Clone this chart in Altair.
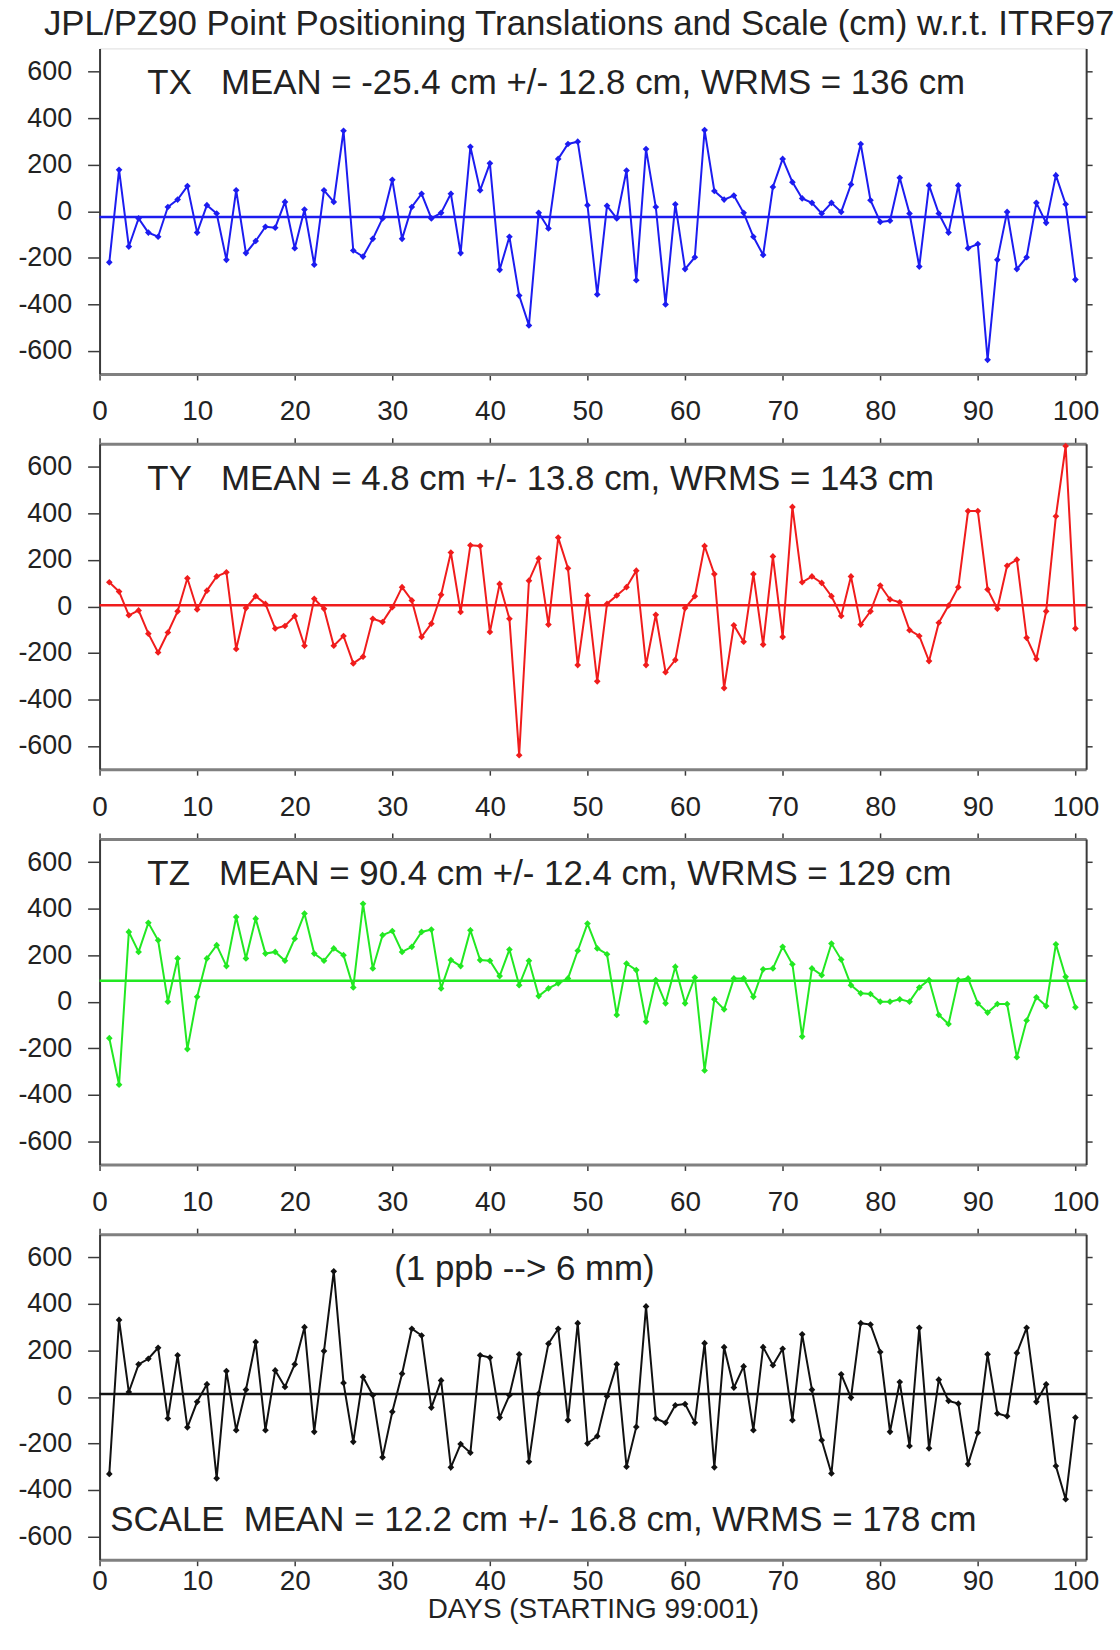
import altair as alt
import pandas as pd

FONT = "Liberation Sans"

days = list(range(1, 101))

tx = [-220, 178, -152, -31, -92, -110, 18, 50, 108, -92,
      26, -10, -209, 90, -180, -128, -67, -71, 40, -159,
      7, -230, 90, 40, 346, -169, -195, -119, -31, 135,
      -119, 18, 75, -31, -7, 75, -180, 277, 90, 206,
      -252, -110, -363, -491, -7, -74, 225, 289, 299, 26,
      -358, 23, -31, 175, -297, 267, 18, -401, 30, -249,
      -198, 349, 87, 50, 67, -7, -110, -188, 104, 225,
      125, 55, 36, -10, 36, -3, 115, 289, 47, -46,
      -41, 144, -10, -238, 111, -10, -92, 111, -159, -141,
      -639, -209, -3, -249, -198, 36, -50, 154, 30, -294]

ty = [104, 64, -38, -17, -117, -198, -112, -21, 121, -13,
      68, 129, 147, -183, -7, 44, 11, -95, -84, -41,
      -169, 33, -10, -169, -127, -245, -216, -53, -67, -3,
      83, 26, -131, -74, 50, 232, -24, 263, 260, -110,
      97, -53, -640, 111, 206, -78, 296, 164, -252, 47,
      -322, 11, 47, 83, 154, -252, -36, -283, -230, -7,
      44, 260, 139, -351, -81, -152, 139, -164, 215, -131,
      428, 104, 129, 101, 44, -41, 129, -78, -21, 90,
      30, 18, -102, -127, -235, -70, 4, 83, 410, 410,
      73, -10, 175, 201, -135, -226, -21, 388, 690, -95]

tz = [-157, -357, 300, 214, 339, 264, 0, 186, -204, 21,
      186, 243, 153, 364, 186, 357, 207, 214, 176, 271,
      379, 207, 176, 229, 200, 61, 421, 143, 286, 304,
      214, 236, 300, 310, 57, 179, 153, 307, 179, 176,
      110, 224, 71, 176, 24, 57, 79, 100, 219, 336,
      229, 204, -57, 164, 136, -86, 93, -7, 150, -7,
      104, -296, 10, -33, 100, 100, 21, 139, 143, 236,
      161, -150, 143, 114, 250, 181, 71, 36, 33, 0,
      0, 10, 0, 61, 93, -57, -96, 93, 100, -7,
      -47, -10, -10, -239, -81, 19, -19, 247, 107, -24]

scale_v = [-331, 331, 21, 140, 164, 211, -93, 179, -131, -21,
           54, -350, 111, -143, 31, 236, -143, 114, 43, 140,
           300, -150, 197, 540, 60, -193, 86, 7, -260, -64,
           100, 293, 264, -46, 71, -303, -203, -240, 179, 169,
           -89, 7, 183, -279, 14, 229, 293, -100, 317, -200,
           -169, 3, 140, -300, -129, 389, -93, -111, -36, -31,
           -111, 231, -303, 214, 40, 131, -143, 214, 136, 207,
           -100, 269, 31, -186, -329, 97, -3, 317, 311, 193,
           -150, 64, -211, 297, -221, 74, -17, -29, -289, -154,
           183, -71, -83, 189, 297, -21, 54, -297, -440, -89]

means = [-25.4, 4.8, 90.4, 12.2]
colors = ["#1c1cf0", "#f01c1c", "#22e822", "#111111"]
series = [tx, ty, tz, scale_v]

NB = "\u00a0"
notes = [
    [("TX" + NB * 3 + "MEAN = -25.4 cm +/- 12.8 cm, WRMS = 136 cm", 4.9, 550)],
    [("TY" + NB * 3 + "MEAN = 4.8 cm +/- 13.8 cm, WRMS = 143 cm", 4.9, 546)],
    [("TZ" + NB * 3 + "MEAN = 90.4 cm +/- 12.4 cm, WRMS = 129 cm", 4.9, 550)],
    [("(1 ppb --> 6 mm)", 30.2, 548),
     ("SCALE" + NB * 2 + "MEAN = 12.2 cm +/- 16.8 cm, WRMS = 178 cm", 1.1, -530)],
]

x_ticks = list(range(0, 101, 10))
y_ticks = list(range(-600, 601, 200))

W, H = 991, 327
xscale = alt.Scale(domain=[0, 101.1], nice=False, zero=False)
yscale = alt.Scale(domain=[-700, 700], nice=False, zero=False)

FRAME = "#3a3a3a"
FRAME_H = "#808080"
LABEL = "#222222"


def make_panel(i):
    vals = series[i]
    color = colors[i]
    df = pd.DataFrame({"day": days, "value": vals})
    last = i == 3
    first = i == 0

    xaxis = alt.Axis(values=x_ticks, tickSize=6, labelPadding=2 if last else 18,
                     labelFontSize=28, labelFont=FONT, labelColor=LABEL, grid=False,
                     domainColor=FRAME_H, domainWidth=3, tickColor=FRAME, tickWidth=1.5,
                     title="DAYS (STARTING 99:001)" if last else "",
                     titleFont=FONT, titleFontSize=28, titleFontWeight="normal",
                     titleColor=LABEL, titlePadding=0, labelFlush=False)
    yaxis = alt.Axis(values=y_ticks, tickSize=12, labelPadding=16, labelFontSize=27,
                     labelFont=FONT, labelColor=LABEL, grid=False, domainColor=FRAME,
                     domainWidth=2, tickColor=FRAME, tickWidth=1.5, title=None,
                     labelExpr="'' + datum.value")

    base = alt.Chart(df)
    line = base.mark_line(color=color, strokeWidth=2).encode(
        x=alt.X("day:Q", scale=xscale, axis=xaxis),
        y=alt.Y("value:Q", scale=yscale, axis=yaxis),
    )
    pts = base.mark_point(filled=True, color=color, size=45, opacity=1, shape="diamond").encode(
        x=alt.X("day:Q", scale=xscale, axis=None),
        y=alt.Y("value:Q", scale=yscale, axis=None),
    )
    rule = alt.Chart(pd.DataFrame({"mean": [means[i]]})).mark_rule(
        color=color, strokeWidth=2.5).encode(
        y=alt.Y("mean:Q", scale=yscale, axis=None),
    )
    ndf = pd.DataFrame({"label": [n[0] for n in notes[i]],
                        "x": [n[1] for n in notes[i]],
                        "y": [n[2] for n in notes[i]]})
    txt = alt.Chart(ndf).mark_text(align="left", baseline="middle", fontSize=35,
                                   font=FONT, color=LABEL).encode(
        x=alt.X("x:Q", scale=xscale, axis=None),
        y=alt.Y("y:Q", scale=yscale, axis=None),
        text="label:N",
    )
    top_axis = alt.Axis(orient="top", values=x_ticks, labels=False, tickSize=6,
                        grid=False, domainColor=FRAME_H, domainWidth=3,
                        tickColor=FRAME, tickWidth=1.5, title=None)
    right_axis = alt.Axis(orient="right", values=y_ticks, labels=False, tickSize=6,
                          grid=False, domainColor=FRAME, domainWidth=2,
                          tickColor=FRAME, tickWidth=1.5, title=None)
    ghost = base.mark_point(opacity=0).encode(
        x=alt.X("day:Q", scale=xscale, axis=None if first else top_axis),
        y=alt.Y("value:Q", scale=yscale, axis=right_axis),
    )
    return alt.layer(line, rule, pts, txt, ghost).resolve_axis(
        x="independent", y="independent").properties(width=W, height=H)


chart = alt.vconcat(*[make_panel(i) for i in range(4)], spacing=9).properties(
    title=alt.TitleParams(
        text="JPL/PZ90 Point Positioning Translations and Scale (cm) w.r.t. ITRF97",
        font=FONT, fontSize=35, fontWeight="normal", color=LABEL,
        anchor="middle", offset=6, dx=21),
    padding={"left": 17, "top": 3, "right": 5, "bottom": 5},
).configure_view(stroke="transparent").configure(background="white")

chart.save("out.html", embed_options={"renderer": "svg", "actions": False})
